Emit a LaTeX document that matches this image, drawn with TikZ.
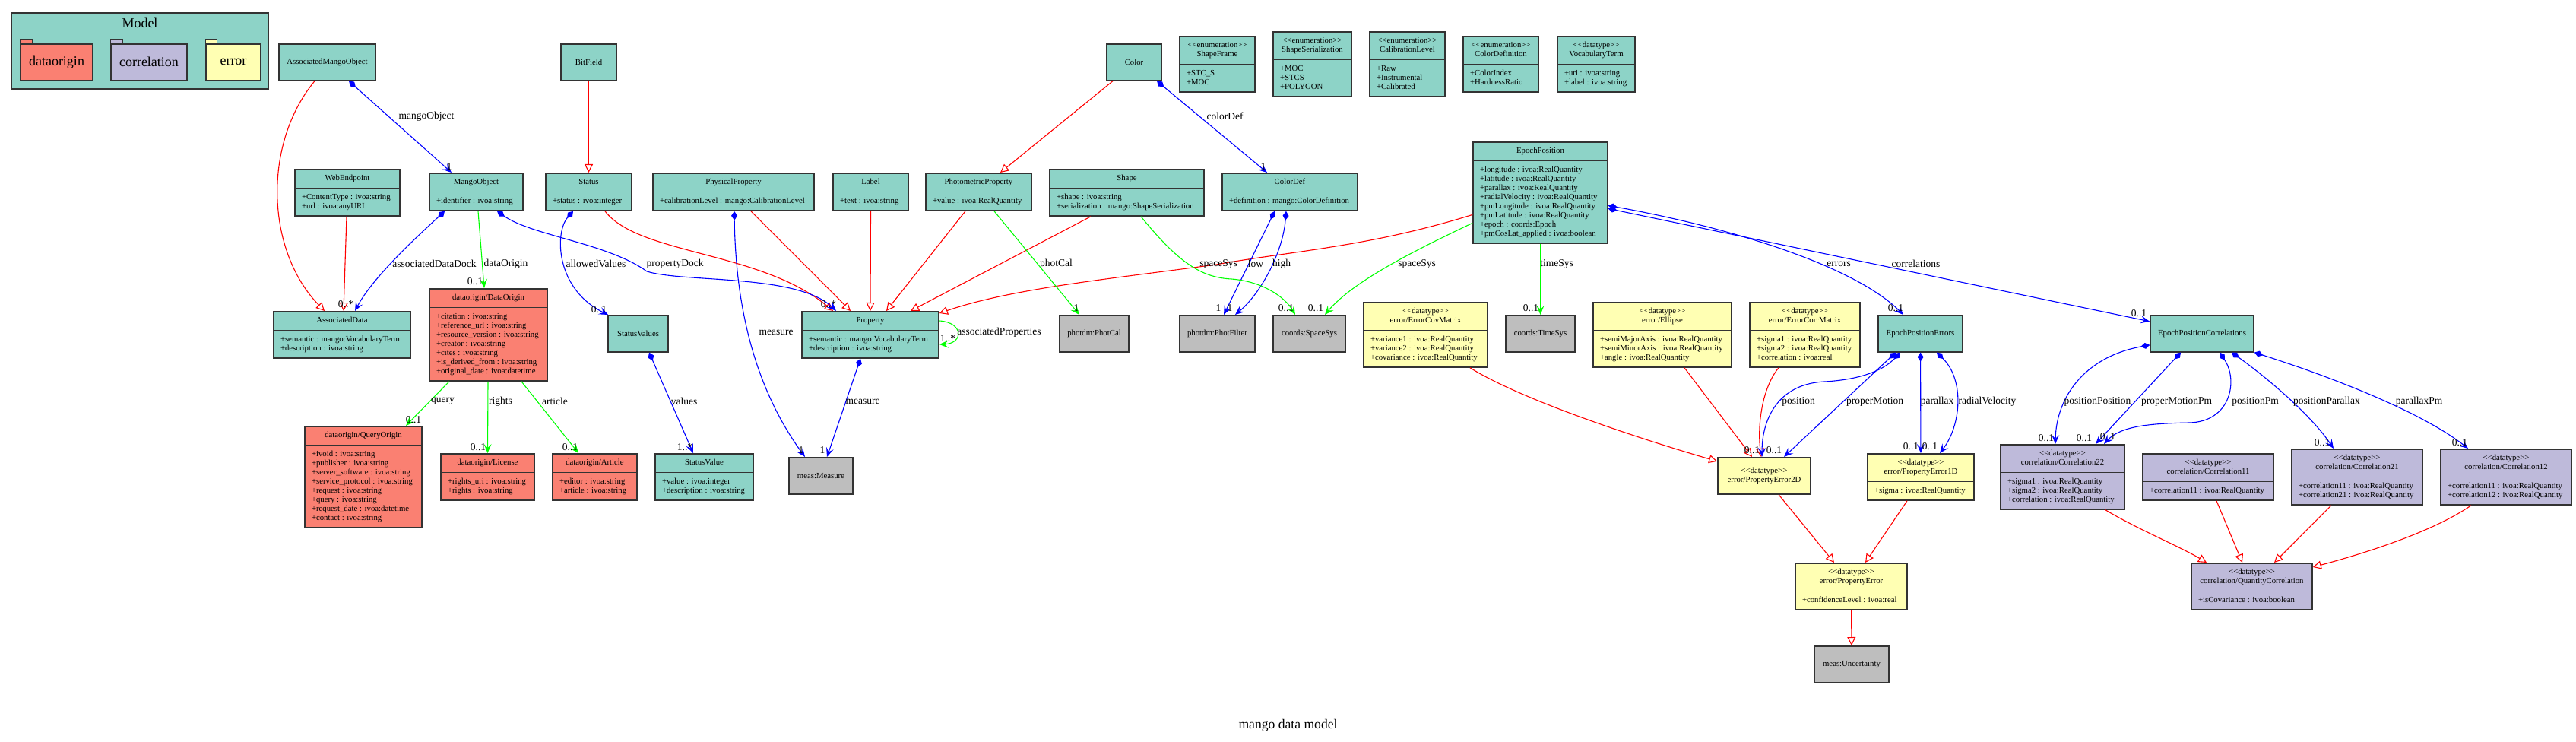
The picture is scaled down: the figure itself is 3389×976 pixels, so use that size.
\documentclass[tikz,border=0pt]{standalone}
\usepackage{fontspec}
\setmainfont{Liberation Serif}
\usepackage{xcolor}
\definecolor{Teal}{HTML}{8DD3C7}
\definecolor{Salmon}{HTML}{FA8072}
\definecolor{Lavender}{HTML}{BEBADA}
\definecolor{Lemon}{HTML}{FFFFB3}
\definecolor{Grey}{HTML}{BEBEBE}
\definecolor{Frame}{HTML}{333333}
\usepackage{tikz}
\usetikzlibrary{shapes.multipart}
\usetikzlibrary{arrows.meta}
\tikzstyle{Class}=[rectangle split,rectangle split parts=2,
rectangle split part align={center,left},draw=Frame,line width=1.6pt,
inner xsep=9pt,inner ysep=5.5pt,anchor=north,font=\fontsize{10.75}{12}\selectfont]
\tikzstyle{Box}=[rectangle,draw=Frame,line width=1.6pt,minimum height=48pt,
inner sep=2pt,anchor=north,align=center,font=\fontsize{10.75}{12}\selectfont]
\tikzstyle{Pkg}=[rectangle,draw=Frame,fill=Teal,line width=1.6pt,anchor=north]
\tikzstyle{Folder}=[rectangle,draw=Frame,line width=1.6pt,minimum height=48pt,
anchor=north,font=\fontsize{18}{20}\selectfont]
\tikzstyle{Tab}=[draw=Frame,line width=1.2pt]
\tikzstyle{Gen}=[draw=red,line width=1.1pt,-{Triangle[open,length=11pt,width=11pt]}]
\tikzstyle{Comp}=[draw=blue,line width=1.1pt,
{Diamond[length=12pt,width=8pt]}-{Stealth[length=12pt,width=10pt,inset=5pt]}]
\tikzstyle{Assoc}=[draw=green,line width=1.1pt,-{Stealth[length=12pt,width=10pt,inset=5pt]}]
\tikzstyle{Lbl}=[font=\fontsize{13.5}{15}\selectfont,inner sep=0pt]
\newcommand{\Head}[1]{\begin{tabular}{@{}c@{}}#1\end{tabular}}
\newcommand{\Attr}[1]{\nodepart{two}\begin{tabular}{@{}l@{}}#1\end{tabular}}
\newcommand{\Stereo}[1]{<\kern0pt<#1>\kern0pt>}

\begin{document}
\begin{tikzpicture}[x=1pt,y=-1pt]
        \path[use as bounding box,fill=white](0,0)rectangle(3389,976);
        % package overview
        \node[Pkg,minimum width=338,minimum height=100](Model)at(184,16){};
        \node[Lbl,font=\fontsize{18}{20}\selectfont](ModelTitle)at(184,30){Model};
        \node[Folder,fill=Salmon,minimum width=95](PkgDataorigin)at(74.5,57){dataorigin};
        \node[Folder,fill=Lavender,minimum width=100](PkgCorrelation)at(196,57){correlation};
        \node[Folder,fill=Lemon,minimum width=72](PkgError)at(307,57){error};
        \draw[Tab,fill=Salmon](PkgDataorigin.north west)rectangle++(16,-5);
        \draw[Tab,fill=Lavender](PkgCorrelation.north west)rectangle++(16,-5);
        \draw[Tab,fill=Lemon](PkgError.north west)rectangle++(15,-5);
        % mango classes
        \node[Box,fill=Teal,minimum width=127](AssociatedMangoObject)at(430.5,57){AssociatedMangoObject};
        \node[Class,fill=Teal,minimum width=138](WebEndpoint)at(457,222)
            {\Head{WebEndpoint}\Attr{+ContentType : ivoa:string\\+url : ivoa:anyURI}};
        \node[Class,fill=Teal,minimum width=180](AssociatedData)at(450,409)
            {\Head{AssociatedData}\Attr{+semantic : mango:VocabularyTerm\\+description : ivoa:string}};
        \node[Class,fill=Teal,minimum width=123](MangoObject)at(626.5,227)
            {\Head{MangoObject}\Attr{+identifier : ivoa:string}};
        \node[Box,fill=Teal,minimum width=73](BitField)at(774.5,57){BitField};
        \node[Class,fill=Teal,minimum width=113](Status)at(774.5,227)
            {\Head{Status}\Attr{+status : ivoa:integer}};
        \node[Class,fill=Teal,minimum width=212](PhysicalProperty)at(965,227)
            {\Head{PhysicalProperty}\Attr{+calibrationLevel : mango:CalibrationLevel}};
        \node[Class,fill=Teal,minimum width=99](Label)at(1145.5,227)
            {\Head{Label}\Attr{+text : ivoa:string}};
        \node[Box,fill=Teal,minimum width=79](StatusValues)at(839.5,414){StatusValues};
        \node[Class,fill=Teal,minimum width=180](Property)at(1145,409)
            {\Head{Property}\Attr{+semantic : mango:VocabularyTerm\\+description : ivoa:string}};
        \node[Class,fill=Teal,minimum width=139](PhotometricProperty)at(1287.5,227)
            {\Head{PhotometricProperty}\Attr{+value : ivoa:RealQuantity}};
        \node[Class,fill=Teal,minimum width=203](Shape)at(1482.5,222)
            {\Head{Shape}\Attr{+shape : ivoa:string\\+serialization : mango:ShapeSerialization}};
        \node[Box,fill=Teal,minimum width=72](Color)at(1492,57){Color};
        \node[Class,fill=Teal,minimum width=99](ShapeFrame)at(1601.5,47)
            {\Head{\Stereo{enumeration}\\ShapeFrame}\Attr{+STC\_S\\+MOC}};
        \node[Class,fill=Teal,minimum width=103](ShapeSerialization)at(1726.5,41)
            {\Head{\Stereo{enumeration}\\ShapeSerialization}\Attr{+MOC\\+STCS\\+POLYGON}};
        \node[Class,fill=Teal,minimum width=99](CalibrationLevel)at(1851.5,41)
            {\Head{\Stereo{enumeration}\\CalibrationLevel}\Attr{+Raw\\+Instrumental\\+Calibrated}};
        \node[Class,fill=Teal,minimum width=99](ColorDefinition)at(1974.5,47)
            {\Head{\Stereo{enumeration}\\ColorDefinition}\Attr{+ColorIndex\\+HardnessRatio}};
        \node[Class,fill=Teal,minimum width=102](VocabularyTerm)at(2100,47)
            {\Head{\Stereo{datatype}\\VocabularyTerm}\Attr{+uri : ivoa:string\\+label : ivoa:string}};
        \node[Class,fill=Teal,minimum width=178](ColorDef)at(1697,227)
            {\Head{ColorDef}\Attr{+definition : mango:ColorDefinition}};
        \node[Class,fill=Teal,minimum width=177](EpochPosition)at(2026.5,186)
            {\Head{EpochPosition}\Attr{+longitude : ivoa:RealQuantity\\+latitude : ivoa:RealQuantity\\
            +parallax : ivoa:RealQuantity\\+radialVelocity : ivoa:RealQuantity\\
            +pmLongitude : ivoa:RealQuantity\\+pmLatitude : ivoa:RealQuantity\\
            +epoch : coords:Epoch\\+pmCosLat\_applied : ivoa:boolean}};
        \node[Box,fill=Teal,minimum width=111](EpochPositionErrors)at(2526.5,414){EpochPositionErrors};
        \node[Box,fill=Teal,minimum width=136](EpochPositionCorrelations)at(2897,414){EpochPositionCorrelations};
        \node[Class,fill=Teal,minimum width=129](StatusValue)at(926.5,596)
            {\Head{StatusValue}\Attr{+value : ivoa:integer\\+description : ivoa:string}};
        % imported types
        \node[Box,fill=Grey,minimum width=91](PhotCal)at(1439.5,414){photdm:PhotCal};
        \node[Box,fill=Grey,minimum width=99](PhotFilter)at(1601.5,414){photdm:PhotFilter};
        \node[Box,fill=Grey,minimum width=95](SpaceSys)at(1722.5,414){coords:SpaceSys};
        \node[Box,fill=Grey,minimum width=91](TimeSys)at(2026.5,414){coords:TimeSys};
        \node[Box,fill=Grey,minimum width=84](Measure)at(1080,601){meas:Measure};
        \node[Box,fill=Grey,minimum width=98](Uncertainty)at(2436,849){meas:Uncertainty};
        % dataorigin
        \node[Class,fill=Salmon,minimum width=155](DataOrigin)at(642.5,379)
            {\Head{dataorigin/DataOrigin}\Attr{+citation : ivoa:string\\+reference\_url : ivoa:string\\
            +resource\_version : ivoa:string\\+creator : ivoa:string\\+cites : ivoa:string\\
            +is\_derived\_from : ivoa:string\\+original\_date : ivoa:datetime}};
        \node[Class,fill=Salmon,minimum width=154](QueryOrigin)at(478,560)
            {\Head{dataorigin/QueryOrigin}\Attr{+ivoid : ivoa:string\\+publisher : ivoa:string\\
            +server\_software : ivoa:string\\+service\_protocol : ivoa:string\\+request : ivoa:string\\
            +query : ivoa:string\\+request\_date : ivoa:datetime\\+contact : ivoa:string}};
        \node[Class,fill=Salmon,minimum width=123](License)at(641.5,596)
            {\Head{dataorigin/License}\Attr{+rights\_uri : ivoa:string\\+rights : ivoa:string}};
        \node[Class,fill=Salmon,minimum width=111](Article)at(782.5,596)
            {\Head{dataorigin/Article}\Attr{+editor : ivoa:string\\+article : ivoa:string}};
        % error
        \node[Class,fill=Lemon,minimum width=163](ErrorCovMatrix)at(1875.5,397)
            {\Head{\Stereo{datatype}\\error/ErrorCovMatrix}\Attr{+variance1 : ivoa:RealQuantity\\
            +variance2 : ivoa:RealQuantity\\+covariance : ivoa:RealQuantity}};
        \node[Class,fill=Lemon,minimum width=182](Ellipse)at(2187,397)
            {\Head{\Stereo{datatype}\\error/Ellipse}\Attr{+semiMajorAxis : ivoa:RealQuantity\\
            +semiMinorAxis : ivoa:RealQuantity\\+angle : ivoa:RealQuantity}};
        \node[Class,fill=Lemon,minimum width=145](ErrorCorrMatrix)at(2374.5,397)
            {\Head{\Stereo{datatype}\\error/ErrorCorrMatrix}\Attr{+sigma1 : ivoa:RealQuantity\\
            +sigma2 : ivoa:RealQuantity\\+correlation : ivoa:real}};
        \node[Box,fill=Lemon,minimum width=122](PropertyError2D)at(2321,601)
            {\Stereo{datatype}\\error/PropertyError2D};
        \node[Class,fill=Lemon,minimum width=140](PropertyError1D)at(2527,596)
            {\Head{\Stereo{datatype}\\error/PropertyError1D}\Attr{+sigma : ivoa:RealQuantity}};
        \node[Class,fill=Lemon,minimum width=147](PropertyError)at(2435.5,740)
            {\Head{\Stereo{datatype}\\error/PropertyError}\Attr{+confidenceLevel : ivoa:real}};
        % correlation
        \node[Class,fill=Lavender,minimum width=163](Correlation22)at(2713.5,584)
            {\Head{\Stereo{datatype}\\correlation/Correlation22}\Attr{+sigma1 : ivoa:RealQuantity\\
            +sigma2 : ivoa:RealQuantity\\+correlation : ivoa:RealQuantity}};
        \node[Class,fill=Lavender,minimum width=172](Correlation11)at(2905,596)
            {\Head{\Stereo{datatype}\\correlation/Correlation11}\Attr{+correlation11 : ivoa:RealQuantity}};
        \node[Class,fill=Lavender,minimum width=172](Correlation21)at(3101,590)
            {\Head{\Stereo{datatype}\\correlation/Correlation21}\Attr{+correlation11 : ivoa:RealQuantity\\
            +correlation21 : ivoa:RealQuantity}};
        \node[Class,fill=Lavender,minimum width=172](Correlation12)at(3297,590)
            {\Head{\Stereo{datatype}\\correlation/Correlation12}\Attr{+correlation11 : ivoa:RealQuantity\\
            +correlation12 : ivoa:RealQuantity}};
        \node[Class,fill=Lavender,minimum width=159](QuantityCorrelation)at(2962.5,740)
            {\Head{\Stereo{datatype}\\correlation/QuantityCorrelation}\Attr{+isCovariance : ivoa:boolean}};
        \node[Lbl,font=\fontsize{17.6}{20}\selectfont](Title)at(1694.5,954){mango data model};
        % generalisations
        \draw[Gen]([xshift=-16.5]AssociatedMangoObject.south)..controls(345,190)and(350,330)
            ..([xshift=-23]AssociatedData.north);
        \draw[Gen]([xshift=-1]WebEndpoint.south)--([xshift=2]AssociatedData.north);
        \draw[Gen](BitField)--(Status);
        \draw[Gen]([xshift=21.5]Status.south)..controls(840,335)and(1000,330)..([xshift=-49]Property.north);
        \draw[Gen]([xshift=23]PhysicalProperty.south)--([xshift=-26]Property.north);
        \draw[Gen](Label.south)--(Property.north);
        \draw[Gen]([xshift=-17.5]PhotometricProperty.south)--([xshift=21]Property.north);
        \draw[Gen]([xshift=-47.5]Shape.south)--([xshift=53]Property.north);
        \draw[Gen]([yshift=-29]EpochPosition.west)..controls(1800,325)and(1700,330)..(1600,348)
            ..controls(1450,368)and(1330,380)..([yshift=-3]Property.north east);
        \draw[Gen]([xshift=-28]Color.south)--([xshift=28.5]PhotometricProperty.north);
        \draw[Gen]([xshift=58.5]ErrorCovMatrix.south)..controls(2000,525)and(2150,575)
            ..([yshift=19]PropertyError2D.west);
        \draw[Gen]([xshift=29]Ellipse.south)--([xshift=-16]PropertyError2D.north);
        \draw[Gen]([xshift=-34.5]ErrorCorrMatrix.south)..controls(2318,510)and(2312,560)
            ..([xshift=-4]PropertyError2D.north);
        \draw[Gen]([xshift=19]PropertyError2D.south)--([xshift=-22.5]PropertyError.north);
        \draw[Gen]([xshift=-18]PropertyError1D.south)--([xshift=18.5]PropertyError.north);
        \draw[Gen](PropertyError)--(Uncertainty);
        \draw[Gen]([xshift=56.5]Correlation22.south)..controls(2810,695)and(2870,720)
            ..([xshift=-59.5]QuantityCorrelation.north);
        \draw[Gen]([xshift=11]Correlation11.south)--([xshift=-12.5]QuantityCorrelation.north);
        \draw[Gen]([xshift=-34]Correlation21.south)--([xshift=29.5]QuantityCorrelation.north);
        \draw[Gen]([xshift=-46]Correlation12.south)..controls(3200,700)and(3110,728)
            ..([yshift=-6]QuantityCorrelation.north east);
        % compositions
        \draw[Comp]([xshift=28.5]AssociatedMangoObject.south)--([xshift=-32.5]MangoObject.north)
            node[Lbl](lMango)at(561,153){mangoObject} node[Lbl](mMango)at(591,219){1};
        \draw[Comp]([xshift=-41.5]MangoObject.south)..controls(550,310)and(490,365)
            ..([xshift=17]AssociatedData.north)
            node[Lbl](lDock)at(571.5,347){associatedDataDock} node[Lbl](mDock)at(455,400){0..*};
        \draw[Comp]([xshift=-20.5]Status.south)..controls(730,305)and(730,380)
            ..([xshift=-39.5]StatusValues.north)
            node[Lbl](lAllowed)at(784,347){allowedValues} node[Lbl](mAllowed)at(788,407){0..1};
        \draw[Comp]([xshift=27.5]MangoObject.south)..controls(700,310)and(800,320)..(851,357)
            ..controls(900,372)and(1050,360)..([xshift=-45]Property.north)
            node[Lbl](lPropDock)at(888,347){propertyDock} node[Lbl](mPropDock)at(1090,400){0..*};
        \draw[Comp]([xshift=1]PhysicalProperty.south)..controls(968,420)and(1000,520)
            ..([xshift=-21]Measure.north)
            node[Lbl](lMeasure1)at(1021,437){measure} node[Lbl](mMeasure1)at(1054,592){1};
        \draw[Comp]([xshift=-13]Property.south)--([xshift=8]Measure.north)
            node[Lbl](lMeasure2)at(1135,528){measure} node[Lbl](mMeasure2)at(1082,592){1};
        \draw[Comp]([xshift=14.5]StatusValues.south)--([xshift=-14.5]StatusValue.north)
            node[Lbl](lValues)at(900,528){values} node[Lbl](mValues)at(901,588){1..*};
        \draw[Comp]([xshift=30]Color.south)--([xshift=-30]ColorDef.north)
            node[Lbl](lColorDef)at(1611.5,153){colorDef} node[Lbl](mColorDef)at(1662,219){1};
        \draw[Comp]([xshift=-20]ColorDef.south)--([xshift=8.5]PhotFilter.north)
            node[Lbl](lLow)at(1652,347){low} node[Lbl](mLow)at(1603,405){1};
        \draw[Comp]([xshift=-5]ColorDef.south)..controls(1688,330)and(1660,385)
            ..([xshift=23.5]PhotFilter.north)
            node[Lbl](lHigh)at(1686,347){high} node[Lbl](mHigh)at(1618,405){1};
        \draw[Comp]([yshift=-17]EpochPosition.east)..controls(2280,300)and(2440,350)
            ..([xshift=-22.5]EpochPositionErrors.north)
            node[Lbl](lErrors)at(2419,347){errors} node[Lbl](mErrors)at(2494,405){0..1};
        \draw[Comp]([yshift=-21]EpochPosition.east)--([yshift=16]EpochPositionCorrelations.west)
            node[Lbl](lCorr)at(2520.5,347){correlations} node[Lbl](mCorr)at(2814,412){0..1};
        \draw[Comp]([xshift=-26.5]EpochPositionErrors.south)..controls(2475,490)and(2440,500)..(2400,502)
            ..controls(2340,505)and(2318,550)..([xshift=-3]PropertyError2D.north)
            node[Lbl](lPos)at(2366,528){position} node[Lbl](mPos)at(2305,592){0..1};
        \draw[Comp]([xshift=-32.5]EpochPositionErrors.south)--([xshift=26]PropertyError2D.north)
            node[Lbl](lPM)at(2466.5,528){properMotion} node[Lbl](mPM)at(2334,592){0..1};
        \draw[Comp](EpochPositionErrors)--(PropertyError1D)
            node[Lbl](lPlx)at(2548.5,528){parallax} node[Lbl](mPlx)at(2514,587){0..1};
        \draw[Comp]([xshift=21.5]EpochPositionErrors.south)..controls(2585,500)and(2580,560)
            ..([xshift=25]PropertyError1D.north)
            node[Lbl](lRV)at(2614.5,528){radialVelocity} node[Lbl](mRV)at(2539,587){0..1};
        \draw[Comp]([yshift=-15]EpochPositionCorrelations.west)..controls(2740,470)and(2705,525)
            ..([xshift=-9.5]Correlation22.north)
            node[Lbl](lPosPos)at(2759.5,528){positionPosition} node[Lbl](mPosPos)at(2692,576){0..1};
        \draw[Comp]([xshift=-28]EpochPositionCorrelations.south)--([xshift=43.5]Correlation22.north)
            node[Lbl](lPMPm)at(2863.5,528){properMotionPm} node[Lbl](mPMPm)at(2742,576){0..1};
        \draw[Comp]([xshift=23]EpochPositionCorrelations.south)..controls(2945,500)and(2935,555)..(2880,556)
            ..controls(2830,557)and(2790,560)..([xshift=54.5]Correlation22.north)
            node[Lbl](lPosPm)at(2967,528){positionPm} node[Lbl](mPosPm)at(2773,574){0..1};
        \draw[Comp]([xshift=39]EpochPositionCorrelations.south)..controls(2980,495)and(3040,545)
            ..([xshift=-31]Correlation21.north)
            node[Lbl](lPosPlx)at(3061,528){positionParallax} node[Lbl](mPosPlx)at(3055,582){0..1};
        \draw[Comp](EpochPositionCorrelations.south east)..controls(3080,500)and(3190,545)
            ..([xshift=-50]Correlation12.north)
            node[Lbl](lPlxPm)at(3182.5,528){parallaxPm} node[Lbl](mPlxPm)at(3236,582){0..1};
        % associations
        \draw[Assoc]([xshift=2.5]MangoObject.south)--([xshift=-5.5]DataOrigin.north)
            node[Lbl](lOrigin)at(665.5,347){dataOrigin} node[Lbl](mOrigin)at(625,370){0..1};
        \draw[Assoc]([yshift=-13]Property.north east)..controls(1268,424)and(1268,452)
            ..([yshift=-44]Property.north east)
            node[Lbl](lAssocProps)at(1314.5,437){associatedProperties}
            node[Lbl](mAssocProps)at(1247,445){1..*};
        \draw[Assoc]([xshift=20.5]PhotometricProperty.south)--([xshift=-19.5]PhotCal.north)
            node[Lbl](lPhotCal)at(1389.5,347){photCal} node[Lbl](mPhotCal)at(1416,405){1};
        \draw[Assoc]([xshift=18.5]Shape.south)..controls(1550,345)and(1580,365)..(1620,367)
            ..controls(1660,370)and(1690,390)..([xshift=-18.5]SpaceSys.north)
            node[Lbl](lSpace1)at(1603,347){spaceSys} node[Lbl](mSpace1)at(1692,405){0..1};
        \draw[Assoc]([yshift=-40]EpochPosition.west)..controls(1860,330)and(1780,370)
            ..([xshift=20.5]SpaceSys.north)
            node[Lbl](lSpace2)at(1864,347){spaceSys} node[Lbl](mSpace2)at(1731,405){0..1};
        \draw[Assoc](EpochPosition)--(TimeSys)
            node[Lbl](lTime)at(2048,347){timeSys} node[Lbl](mTime)at(2014,405){0..1};
        \draw[Assoc]([xshift=-51.5]DataOrigin.south)--([xshift=56]QueryOrigin.north)
            node[Lbl](lQuery)at(582.5,528){query} node[Lbl](mQuery)at(544,552){0..1};
        \draw[Assoc]([xshift=-0.5]DataOrigin.south)--(License.north)
            node[Lbl](lRights)at(658.5,528){rights} node[Lbl](mRights)at(629,588){0..1};
        \draw[Assoc]([xshift=43.5]DataOrigin.south)--([xshift=-21.5]Article.north)
            node[Lbl](lArticle)at(730,528){article} node[Lbl](mArticle)at(750,588){0..1};
    \end{tikzpicture}
\end{document}
